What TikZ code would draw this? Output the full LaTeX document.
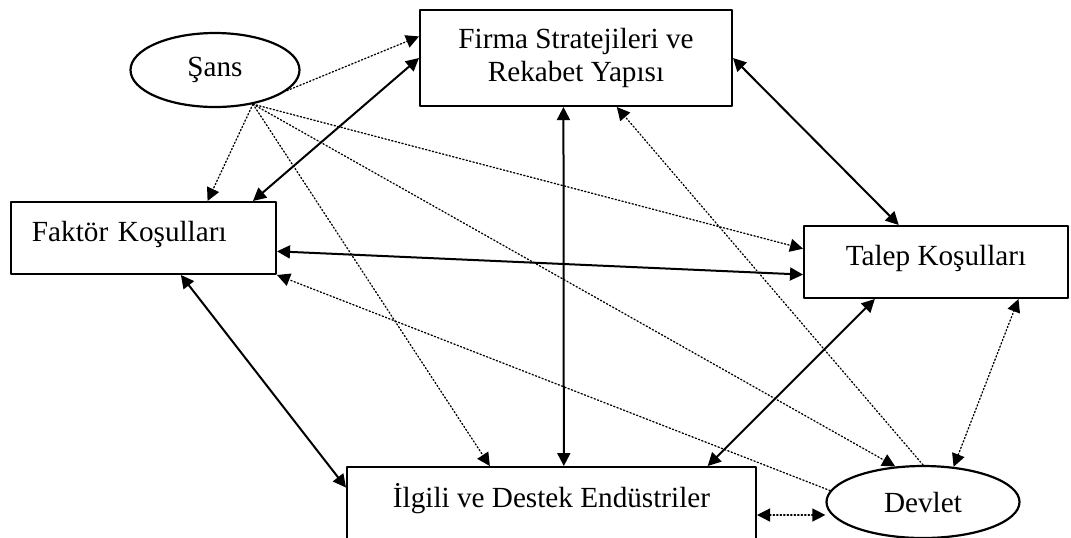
\documentclass[tikz,border=0pt]{standalone}
\usepackage{fontspec}
\setmainfont{Liberation Serif}
\usetikzlibrary{shapes.geometric, calc, arrows.meta}
\tikzset{kutu/.style = {draw, line width=1pt, inner sep=0pt, align=center, font=\fontsize{14.6}{16.5}\selectfont}}
\tikzset{elips/.style = {draw, ellipse, line width=1.1pt, inner sep=0pt, font=\fontsize{14.6}{16.5}\selectfont}}
\tikzset{cift/.style = {line width=1pt,
						 {Triangle[length=6.5pt, width=6.5pt]}-{Triangle[length=6.5pt, width=6.5pt]}}}
\tikzset{noktali/.style = {line width=0.65pt, dash pattern=on 0.65pt off 1.1pt,
						 -{Triangle[length=6.5pt, width=6.5pt]}}}
\tikzset{noktalicift/.style = {line width=0.65pt, dash pattern=on 0.65pt off 1.1pt,
						 {Triangle[length=6.5pt, width=6.5pt]}-{Triangle[length=6.5pt, width=6.5pt]}}}
\begin{document}
\begin{tikzpicture}[x=0.5pt, y=-0.5pt, line cap=round, line join=round]
		% Frame
		\useasboundingbox (0,0) rectangle (1071,537);
		\clip (0,0) rectangle (1071,537);

		% Nodes
		\node[elips, minimum width=84.5pt, minimum height=37pt] (sans) at (215,70) {Şans};
		\node[kutu, minimum width=156pt, minimum height=48pt] (firma) at (576,58) {Firma Stratejileri ve\\Rekabet Yapısı};
		\node[kutu, minimum height=36pt, inner xsep=10.5pt, text width=111.5pt, align=left, text depth=7pt] (faktor) at (143.5,238) {Faktör Koşulları};
		\node[kutu, minimum width=132pt, minimum height=36pt, text depth=7pt] (talep) at (936,262) {Talep Koşulları};
		\node[kutu, minimum width=204.5pt, minimum height=48pt, text depth=20pt] (ilgili) at (551.5,515) {İlgili ve Destek Endüstriler};
		\node[elips, minimum width=96.5pt, minimum height=36pt] (devlet) at (923,502) {Devlet};

		% Solid arrows
		\draw[cift] (firma.west) -- ($(faktor.north west)!0.91!(faktor.north east)$);
		\draw[cift] ($(firma.south west)!0.46!(firma.south east)$) -- ($(ilgili.north west)!0.53!(ilgili.north east)$);
		\draw[cift] (firma.east) -- ($(talep.north west)!0.36!(talep.north east)$);
		\draw[cift] ($(faktor.north east)!0.68!(faktor.south east)$) -- ($(talep.north west)!0.67!(talep.south west)$);
		\draw[cift] ($(faktor.south west)!0.64!(faktor.south east)$) -- ($(ilgili.north west)!0.22!(ilgili.south west)$);
		\draw[cift] ($(talep.south west)!0.27!(talep.south east)$) -- ($(ilgili.north west)!0.88!(ilgili.north east)$);

		% Dotted arrows
		%% from Şans
		\draw[noktali] (sans.-16) -- ($(firma.north west)!0.28!(firma.south west)$);
		\draw[noktali] (sans.-42) -- ($(faktor.north west)!0.74!(faktor.north east)$);
		\draw[noktali] (sans.-42) -- ($(ilgili.north west)!0.35!(ilgili.north east)$);
		\draw[noktali] (sans.-42) -- ($(talep.north west)!0.32!(talep.south west)$);
		\draw[noktali] (sans.-42) -- (devlet.128);
		%% from Devlet
		\draw[noktali] (devlet.north) -- ($(firma.south west)!0.63!(firma.south east)$);
		\draw[noktali] (devlet.173) -- (faktor.south east);
		\draw[noktalicift] (devlet.49) -- ($(talep.south west)!0.81!(talep.south east)$);
		\draw[noktalicift] (ilgili.east) -- (ilgili.east -| devlet.west);
	\end{tikzpicture}
\end{document}
